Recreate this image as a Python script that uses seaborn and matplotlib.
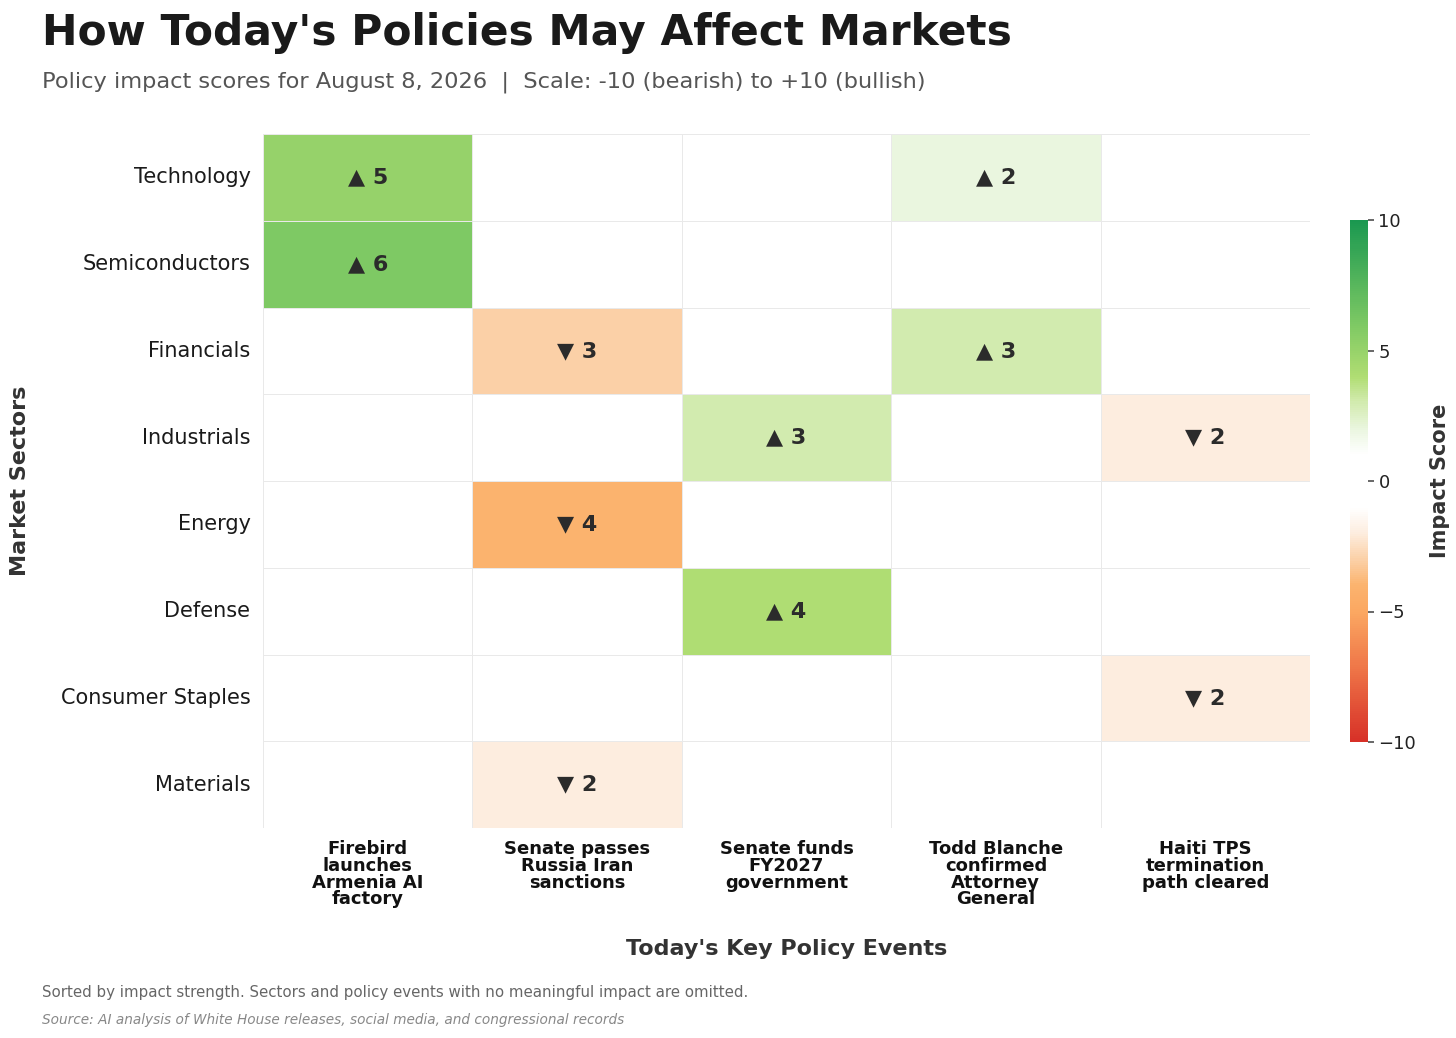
import numpy as np
import pandas as pd
import matplotlib
matplotlib.use("Agg")
import matplotlib.pyplot as plt
import seaborn as sns
from matplotlib.colors import LinearSegmentedColormap

sectors = ["Technology", "Semiconductors", "Financials", "Industrials",
           "Energy", "Defense", "Consumer Staples", "Materials"]
events = ["Firebird\nlaunches\nArmenia AI\nfactory",
          "Senate passes\nRussia Iran\nsanctions",
          "Senate funds\nFY2027\ngovernment",
          "Todd Blanche\nconfirmed\nAttorney\nGeneral",
          "Haiti TPS\ntermination\npath cleared"]
technology = [5, 0, 0, 2, 0]
semiconductors = [6, 0, 0, 0, 0]
financials = [0, -3, 0, 3, 0]
industrials = [0, 0, 3, 0, -2]
energy = [0, -4, 0, 0, 0]
defense = [0, 0, 4, 0, 0]
consumer_staples = [0, 0, 0, 0, -2]
materials = [0, -2, 0, 0, 0]

df = pd.DataFrame([technology, semiconductors, financials, industrials,
                   energy, defense, consumer_staples, materials],
                  index=sectors, columns=events)

anchors = [(-10, "#d73027"), (-7, "#f07a4a"), (-5, "#fba862"), (-4, "#fbb36e"),
           (-3, "#fbd1a8"), (-2, "#fdeddf"), (-1, "#ffffff"), (1, "#ffffff"),
           (2, "#eaf6df"), (3, "#d3ebb0"), (4, "#b0dd73"), (5, "#98d36a"),
           (6, "#7ec964"), (10, "#1a9850")]
cmap = LinearSegmentedColormap.from_list(
    "impact", [((v + 10) / 20, c) for v, c in anchors])

annot = df.map(lambda v: "" if v == 0 else ("\u25B2 " if v > 0 else "\u25BC ") + str(abs(v)))

sns.set_theme(style="white")
plt.rcParams['font.family'] = ['DejaVu Sans']

fig = plt.figure(figsize=(14.56, 10.38), dpi=100)
ax = fig.add_axes([263/1456, 1-828/1038, 1047/1456, 694/1038])
cax = fig.add_axes([1350/1456, 1-742/1038, 18/1456, 522/1038])

sns.heatmap(df, ax=ax, cbar_ax=cax, cmap=cmap, vmin=-10, vmax=10,
            annot=annot, fmt="", linewidths=0.7, linecolor="#e9e9e9",
            annot_kws={"fontsize": 16, "fontweight": "bold", "color": "#2b2b2b"},
            cbar_kws={"ticks": [-10, -5, 0, 5, 10]})

ax.tick_params(axis="both", length=0)
ax.tick_params(axis="y", pad=9)
ax.tick_params(axis="x", pad=9)
ax.set_yticklabels(sectors, rotation=0, fontsize=15, color="#1a1a1a")
ax.set_xticklabels(events, rotation=0, fontsize=13, fontweight="bold",
                   color="#111111", linespacing=0.9, va="top")
ax.set_xlabel("Today's Key Policy Events", fontsize=16, fontweight="bold",
              color="#333333", labelpad=22)
ax.set_ylabel("Market Sectors", fontsize=16, fontweight="bold",
              color="#333333", labelpad=22)

cb = ax.collections[0].colorbar
cb.outline.set_visible(False)
cb.ax.tick_params(labelsize=13, length=4, color="#555555", labelcolor="#222222")
cb.set_label("Impact Score", fontsize=15, fontweight="bold", color="#333333", labelpad=10)

fig.text(42/1456, 1-12/1038, "How Today's Policies May Affect Markets",
         fontsize=30.5, fontweight="bold", color="#1a1a1a", va="top", ha="left")
fig.text(42/1456, 1-82/1038,
         "Policy impact scores for August 8, 2026  |  Scale: -10 (bearish) to +10 (bullish)",
         fontsize=16.2, color="#555555", va="center", ha="left")
fig.text(42/1456, 1-993/1038,
         "Sorted by impact strength. Sectors and policy events with no meaningful impact are omitted.",
         fontsize=10.8, color="#666666", va="center", ha="left")
fig.text(42/1456, 1-1020/1038,
         "Source: AI analysis of White House releases, social media, and congressional records",
         fontsize=9.8, color="#888888", style="italic", va="center", ha="left")

fig.savefig("out.png", dpi=100, facecolor="white")
